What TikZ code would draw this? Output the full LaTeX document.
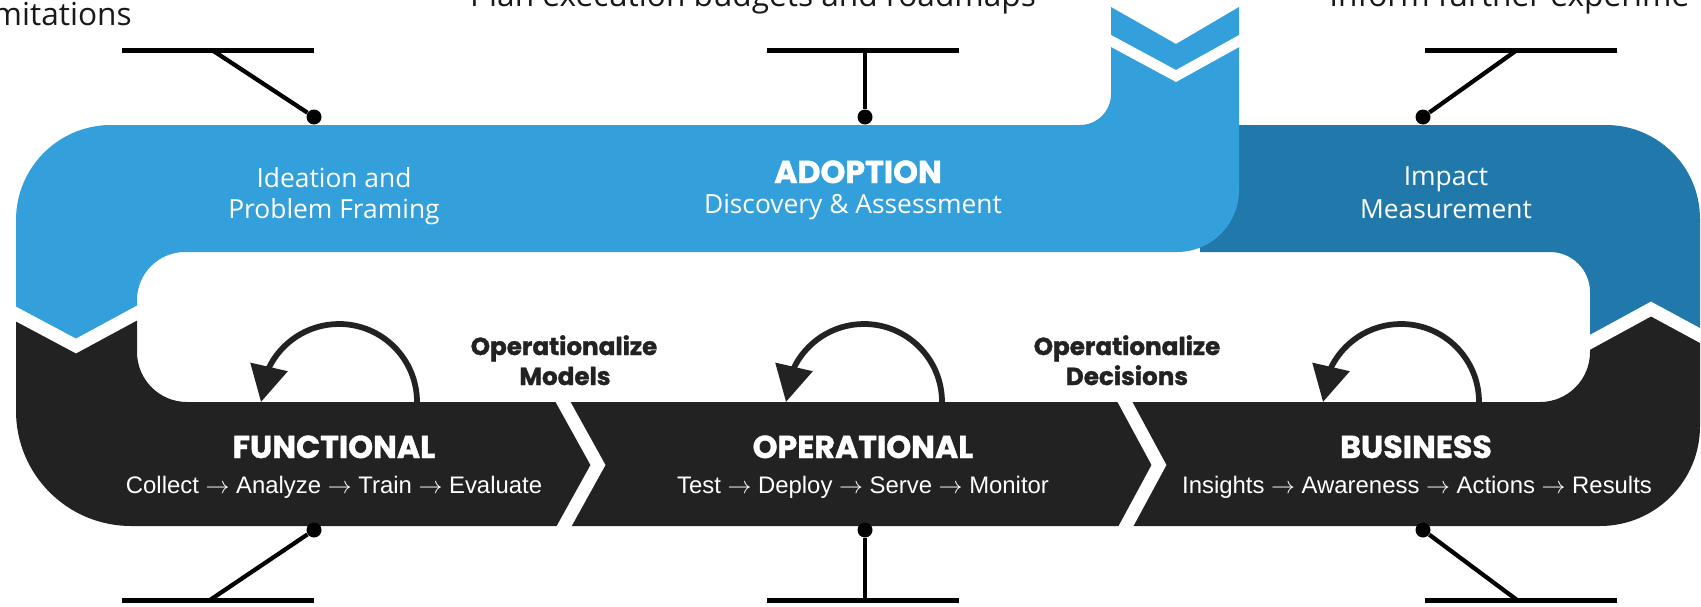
\RequirePackage{fix-cm}
\documentclass[tikz,border=0pt]{standalone}
\usepackage{fontspec}
\setmainfont{Open Sans}
\newfontfamily\headfont{Poppins}[BoldFeatures={FakeBold=1.3}]
\newfontfamily\stepfont{Liberation Sans}
\usetikzlibrary{arrows.meta,
	bending
}
\definecolor{adopt-blue}{HTML}{34A0DB}
\definecolor{impact-blue}{HTML}{2079AA}
\definecolor{band-black}{HTML}{222222}
\newcommand{\thento}{$\rightarrow$}
\tikzset{
	gap/.style={draw=white, line width=2.6mm, line join=miter, miter limit=10},
	phase-title/.style={text=white, font=\headfont\bfseries\fontsize{18}{20}\selectfont, anchor=base, inner sep=0pt},
	phase-steps/.style={text=white, font=\stepfont\fontsize{13.6}{16}\selectfont, anchor=base, inner sep=0pt},
	stage-label/.style={text=white, font=\fontsize{15}{18}\selectfont, anchor=base, inner sep=0pt},
	handoff/.style={text=band-black, font=\headfont\bfseries\fontsize{14}{17}\selectfont, anchor=base, inner sep=0pt},
	pin-note/.style={text=black!90, font=\fontsize{18}{21}\selectfont, anchor=base, inner sep=0pt},
	pin-dot/.style={circle, fill=black, minimum size=3mm, inner sep=0pt},
	pin-bar/.style={draw=black, line width=1mm},
	pin-line/.style={draw=black, line width=0.85mm},
	loopback/.style={draw=band-black, line width=1.15mm, -{Triangle[length=7.2mm, width=7.4mm, flex]}},
}
\begin{document}
\begin{tikzpicture}[x=0.2mm, y=-0.2mm]
\useasboundingbox (0,0) rectangle (1701,607);
\clip (0,0) rectangle (1701,607);

% bands

\fill[impact-blue] (1200,125) -- (1606,125) arc[start angle=270, end angle=360, radius=94]
	-- (1700,335) -- (1651,309) -- (1590,342) -- (1590,292)
	arc[start angle=0, end angle=-90, radius=40] -- (1200,252) -- cycle;

\fill[adopt-blue] (16,314) -- (16,220) arc[start angle=180, end angle=270, radius=95]
	-- (1080,125) arc[start angle=90, end angle=0, radius=31]
	-- (1111,7) -- (1176,44) -- (1239,7) -- (1239,190)
	arc[start angle=0, end angle=90, radius=62]
	-- (185,252) arc[start angle=270, end angle=180, radius=48]
	-- (137,313) -- (76,346) -- cycle;

\fill[band-black] (16,314) -- (76,346) -- (137,313) -- (137,352)
	arc[start angle=180, end angle=90, radius=50] -- (1540,402)
	arc[start angle=90, end angle=0, radius=50] -- (1590,342) -- (1651,309) -- (1700,335)
	-- (1700,426) arc[start angle=0, end angle=90, radius=100]
	-- (131,526) arc[start angle=90, end angle=180, radius=115] -- cycle;

% gaps

\draw[gap] (0,305.5) -- (76,346) -- (150,306);
\draw[gap] (1585,345) -- (1651,309) -- (1712,342);
\draw[gap] (557,391) -- (598,465) -- (557,539);
\draw[gap] (1119,391) -- (1159,465) -- (1119,539);
\draw[gap, line width=2.1mm] (1100,35) -- (1176,76) -- (1250,35);

% labels

\node[stage-label] (ideation) at (334,187) {Ideation and};
\node[stage-label] (framing) at (334,218) {Problem Framing};
\node[phase-title] (adoption) at (858,183) {ADOPTION};
\node[stage-label] (discovery) at (853,213) {Discovery \& Assessment};
\node[stage-label] (impact) at (1446,185) {Impact};
\node[stage-label] (measurement) at (1446,218) {Measurement};

\node[handoff] (op-models) at (564,355) {Operationalize};
\node[handoff] (models) at (565,385) {Models};
\node[handoff] (op-decisions) at (1127,355) {Operationalize};
\node[handoff] (decisions) at (1127,385) {Decisions};

\node[phase-title] (functional) at (334,458) {FUNCTIONAL};
\node[phase-steps] (functional-steps) at (334,493) {Collect \thento{} Analyze \thento{} Train \thento{} Evaluate};
\node[phase-title] (operational) at (863,458) {OPERATIONAL};
\node[phase-steps] (operational-steps) at (863,493) {Test \thento{} Deploy \thento{} Serve \thento{} Monitor};
\node[phase-title] (business) at (1416,458) {BUSINESS};
\node[phase-steps] (business-steps) at (1417,493) {Insights \thento{} Awareness \thento{} Actions \thento{} Results};

% loops

\coordinate (loop-f) at (417,402);
\coordinate (loop-o) at (942,402);
\coordinate (loop-b) at (1479,402);
\draw[loopback] (loop-f) arc[start angle=0, end angle=-180, radius=78];
\draw[loopback] (loop-o) arc[start angle=0, end angle=-180, radius=78];
\draw[loopback] (loop-b) arc[start angle=0, end angle=-180, radius=78];

% pins

\node[pin-note, anchor=base east] (note-a) at (132,25) {mitations};
\node[pin-note] (note-b) at (753,6) {Plan execution budgets and roadmaps};
\node[pin-note, anchor=base west] (note-c) at (1329,6) {Inform further experime};

\node[pin-dot] (top-a) at (314,117) {};
\node[pin-dot] (top-b) at (865,117) {};
\node[pin-dot] (top-c) at (1423,117) {};
\node[pin-dot] (low-a) at (314,530) {};
\node[pin-dot] (low-b) at (865,530) {};
\node[pin-dot] (low-c) at (1423,530) {};

\coordinate (top-a-l) at (122,50); \coordinate (top-a-r) at (314,50); \coordinate (top-a-k) at (212,50);
\coordinate (top-b-l) at (767,50); \coordinate (top-b-r) at (959,50); \coordinate (top-b-k) at (865,50);
\coordinate (top-c-l) at (1425,50); \coordinate (top-c-r) at (1617,50); \coordinate (top-c-k) at (1517,50);
\coordinate (low-a-l) at (122,600); \coordinate (low-a-r) at (314,600); \coordinate (low-a-k) at (210,600);
\coordinate (low-b-l) at (767,600); \coordinate (low-b-r) at (959,600); \coordinate (low-b-k) at (865,600);
\coordinate (low-c-l) at (1425,600); \coordinate (low-c-r) at (1617,600); \coordinate (low-c-k) at (1517,600);

\draw[pin-bar] (top-a-l) -- (top-a-r);
\draw[pin-bar] (top-b-l) -- (top-b-r);
\draw[pin-bar] (top-c-l) -- (top-c-r);
\draw[pin-bar] (low-a-l) -- (low-a-r);
\draw[pin-bar] (low-b-l) -- (low-b-r);
\draw[pin-bar] (low-c-l) -- (low-c-r);

\draw[pin-line] (top-a-k) -- (top-a);
\draw[pin-line] (top-b-k) -- (top-b);
\draw[pin-line] (top-c-k) -- (top-c);
\draw[pin-line] (low-a-k) -- (low-a);
\draw[pin-line] (low-b-k) -- (low-b);
\draw[pin-line] (low-c-k) -- (low-c);

\end{tikzpicture}
\end{document}
